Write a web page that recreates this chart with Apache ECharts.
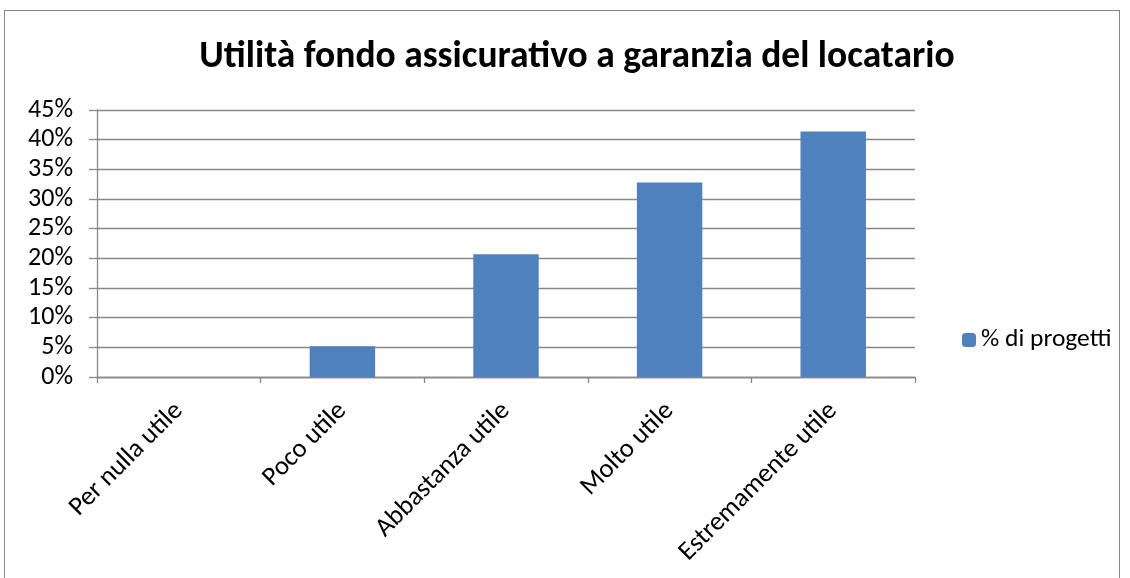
<!DOCTYPE html>
<html>
<head>
<meta charset="utf-8">
<script src="https://cdn.jsdelivr.net/npm/echarts@6/dist/echarts.min.js"></script>
<style>
  html, body { margin: 0; padding: 0; background: #fff; }
  #chart { width: 1130px; height: 578px; }
  #frame { position: absolute; left: 4px; top: 10px; width: 1116px; height: 580px; border: 1px solid #888; box-sizing: border-box; pointer-events: none; }
</style>
</head>
<body>
<div id="chart"></div>
<div id="frame"></div>
<script>
  const categories = ['Per nulla utile', 'Poco utile', 'Abbastanza utile', 'Molto utile', 'Estremamente utile'];
  const percentProjects = [0, 5.17, 20.69, 32.76, 41.38];
  const seriesName = '% di progetti';
  const titleText = 'Utilità fondo assicurativo a garanzia del locatario';

  const font = 'Carlito, "Open Sans", "Noto Sans", sans-serif';
  const chart = echarts.init(document.getElementById('chart'));

  chart.setOption({
    animation: false,
    title: {
      text: titleText,
      left: 572,
      top: 34,
      textAlign: 'center',
      textStyle: { fontFamily: font, fontWeight: 'bold', fontSize: 37.5, color: '#000' }
    },
    legend: {
      data: [seriesName],
      left: 957,
      top: 322,
      orient: 'vertical',
      itemWidth: 14,
      itemHeight: 14,
      itemGap: 8,
      textStyle: { fontFamily: font, fontSize: 25.5, color: '#000' }
    },
    grid: { left: 97, right: 215, top: 110, bottom: 201, containLabel: false },
    xAxis: {
      type: 'category',
      data: categories,
      axisLine: { lineStyle: { color: '#888', width: 1.3 } },
      axisTick: { show: true, length: 6, alignWithLabel: false, lineStyle: { color: '#888', width: 1.3 } },
      axisLabel: { rotate: 45, margin: 30, fontFamily: font, fontSize: 26.5, color: '#000', interval: 0 }
    },
    yAxis: {
      type: 'value',
      min: 0,
      max: 45,
      interval: 5,
      axisLine: { show: true, lineStyle: { color: '#888', width: 1.3 } },
      axisTick: { show: true, length: 8, lineStyle: { color: '#888', width: 1.3 } },
      splitLine: { lineStyle: { color: '#888', width: 1.3 } },
      axisLabel: { formatter: '{value}%', margin: 24, fontFamily: font, fontSize: 26, color: '#000' }
    },
    series: [{
      name: seriesName,
      type: 'bar',
      data: percentProjects,
      barWidth: '40%',
      itemStyle: { color: '#4f81bd' }
    }]
  });
</script>
</body>
</html>
